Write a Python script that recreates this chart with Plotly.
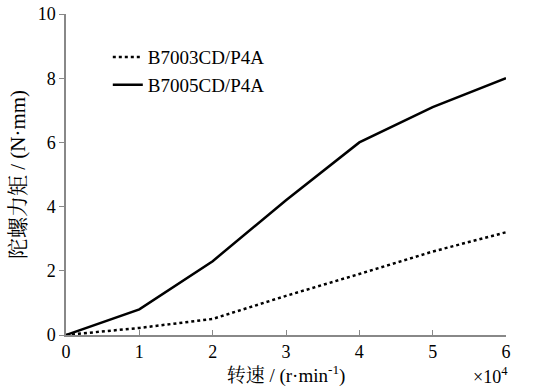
import plotly.graph_objects as go

speed = [0, 1, 2, 3, 4, 5, 6]
b7003 = [0, 0.22, 0.5, 1.22, 1.9, 2.6, 3.2]
b7005 = [0, 0.8, 2.3, 4.2, 6.0, 7.1, 8.0]
names = ["B7003CD/P4A", "B7005CD/P4A"]

serif = "Liberation Serif, Times New Roman, serif"
cjk = "Liberation Serif, Noto Serif CJK SC, Noto Sans CJK SC, serif"

fig = go.Figure()
fig.add_trace(go.Scatter(x=speed, y=b7003, mode="lines", name=names[0],
                         line=dict(color="black", width=2.5, dash="dot")))
fig.add_trace(go.Scatter(x=speed, y=b7005, mode="lines", name=names[1],
                         line=dict(color="black", width=2.5)))

fig.update_layout(
    width=535, height=388,
    margin=dict(l=66, r=29, t=14, b=53),
    paper_bgcolor="white", plot_bgcolor="white",
    font=dict(family=serif, size=18, color="black"),
    legend=dict(x=0.095, y=0.925, xanchor="left", yanchor="top",
                bgcolor="rgba(0,0,0,0)", font=dict(size=19), tracegroupgap=0),
    xaxis=dict(range=[0, 6], tickvals=speed, showline=True, linecolor="#888",
               linewidth=1.5, ticks="inside", ticklen=5, tickcolor="#888",
               showgrid=False, zeroline=False, tickfont=dict(size=18), automargin=False,
               title=dict(text="转速 / (r·min<sup>-1</sup>)", font=dict(family=cjk, size=19), standoff=2)),
    yaxis=dict(range=[0, 10], tickvals=[0, 2, 4, 6, 8, 10], showline=True, linecolor="#888",
               linewidth=1.5, ticks="outside", ticklen=5, tickcolor="#888",
               showgrid=False, zeroline=False, tickfont=dict(size=18), automargin=False,
               title=dict(text="陀螺力矩 / (N·mm)", font=dict(family=cjk, size=21), standoff=6)),
)
fig.add_annotation(x=1.01, y=-0.125, xref="paper", yref="paper", text="×10<sup>4</sup>",
                   showarrow=False, xanchor="right", yanchor="middle", font=dict(size=18))
fig.write_html("out.html")
